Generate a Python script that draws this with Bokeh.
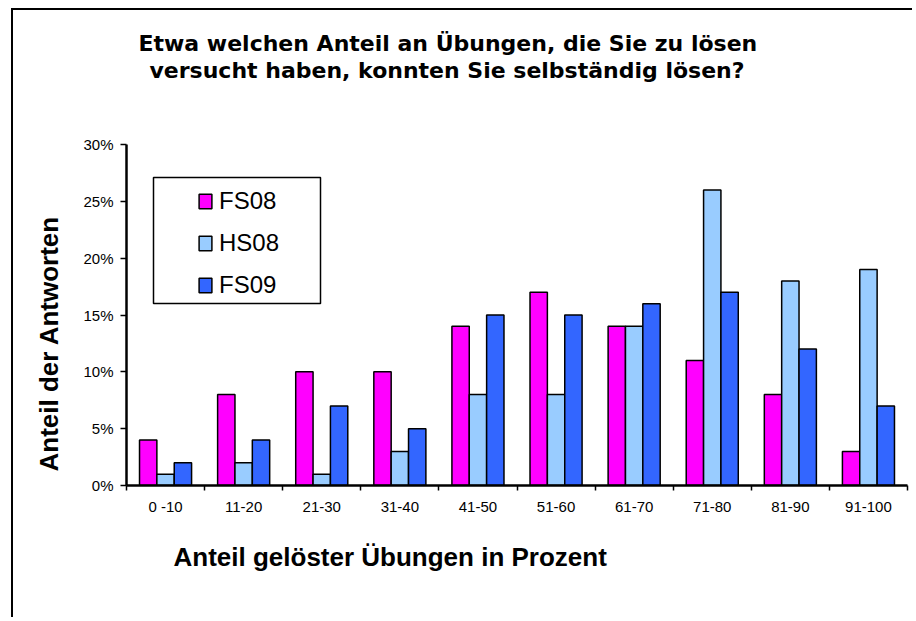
import numpy as np
from bokeh.plotting import figure
from bokeh.models import (ColumnDataSource, Range1d, FixedTicker, PrintfTickFormatter,
                          BoxAnnotation, Title)
from bokeh.transform import dodge
from bokeh.embed import file_html
from bokeh.resources import INLINE

categories = ["0 -10", "11-20", "21-30", "31-40", "41-50", "51-60", "61-70", "71-80", "81-90", "91-100"]
fs08 = [4, 8, 10, 10, 14, 17, 14, 11, 8, 3]
hs08 = [1, 2, 1, 3, 8, 8, 14, 26, 18, 19]
fs09 = [2, 4, 7, 5, 15, 15, 16, 17, 12, 7]
y_ticks = [0, 5, 10, 15, 20, 25, 30]

title_line1 = "Etwa welchen Anteil an Übungen, die Sie zu lösen"
title_line2 = "versucht haben, konnten Sie selbständig lösen?"
x_title = "Anteil gelöster Übungen in Prozent"
y_title = "Anteil der Antworten"

centers = list(np.arange(len(categories)) + 0.5)
bounds = list(np.arange(len(categories) + 1).astype(float))

src = ColumnDataSource(dict(x=centers, fs08=fs08, hs08=hs08, fs09=fs09))

FONT = "Liberation Sans"

p = figure(width=901, height=609, output_backend="svg", toolbar_location=None,
           x_range=Range1d(0, len(categories)), y_range=Range1d(0, 30),
           min_border_left=113, min_border_right=7, min_border_top=134, min_border_bottom=134)
p.styles = {"border-top": "2px solid black", "border-left": "2px solid black",
            "margin-left": "11px", "margin-top": "8px"}
p.outline_line_color = None
p.xgrid.visible = False
p.ygrid.visible = False
p.background_fill_color = "white"
p.border_fill_color = "white"

bw = 1 / 4.5
colors = ["#FF00FF", "#99CCFF", "#3366FF"]
names = ["FS08", "HS08", "FS09"]
cols = ["fs08", "hs08", "fs09"]
for off, col, c, n in zip([-bw, 0, bw], cols, colors, names):
    p.vbar(x=dodge("x", off, range=p.x_range), top=col, width=bw, source=src,
           fill_color=c, line_color="black", line_width=1.5, legend_label=n)

# axes
xa = p.xaxis[0]
xa.ticker = FixedTicker(ticks=centers, minor_ticks=bounds)
xa.major_label_overrides = {c: lab for c, lab in zip(centers, categories)}
xa.major_tick_out = 0
xa.major_tick_in = 0
xa.minor_tick_out = 5
xa.minor_tick_in = 0
xa.minor_tick_line_color = "black"
xa.minor_tick_line_width = 1.5
xa.axis_line_width = 2.5
xa.axis_line_color = "black"
xa.major_label_text_font = FONT
xa.major_label_text_font_size = "15px"
xa.major_label_text_color = "black"
xa.major_label_standoff = 7

ya = p.yaxis[0]
ya.ticker = FixedTicker(ticks=y_ticks, minor_ticks=[])
ya.formatter = PrintfTickFormatter(format="%d%%")
ya.major_tick_out = 6
ya.major_tick_in = 0
ya.major_tick_line_width = 1.5
ya.minor_tick_line_color = None
ya.axis_line_width = 2.5
ya.axis_line_color = "black"
ya.major_label_text_font = FONT
ya.major_label_text_font_size = "15px"
ya.major_label_text_color = "black"
ya.major_label_standoff = 7

# chart title: stacked title panels above the frame (a thin spacer first)
p.add_layout(Title(text=" ", text_font_size="1px", standoff=59), "above")
p.add_layout(Title(text=title_line2, align="left", offset=23, standoff=0,
                   vertical_align="bottom", text_font="DejaVu Sans",
                   text_font_style="bold", text_font_size="22px", text_color="black"), "above")
p.add_layout(Title(text=title_line1, align="left", offset=12, standoff=0,
                   vertical_align="bottom", text_font="DejaVu Sans",
                   text_font_style="bold", text_font_size="22px", text_color="black"), "above")

# axis titles as side-panel titles
p.add_layout(Title(text=x_title, align="left", offset=47, standoff=44,
                   text_font=FONT, text_font_style="bold",
                   text_font_size="26px", text_color="black"), "below")
p.add_layout(Title(text=y_title, align="left", offset=14, standoff=34,
                   text_font=FONT, text_font_style="bold",
                   text_font_size="26px", text_color="black"), "left")

# legend frame box
p.add_layout(BoxAnnotation(left=27, right=194, top=308, bottom=182,
                           left_units="screen", right_units="screen",
                           top_units="screen", bottom_units="screen",
                           fill_alpha=0, line_color="black", line_alpha=1, line_width=1.5,
                           level="overlay"))

lg = p.legend[0]
lg.location = (71, 186)
lg.margin = 0
lg.padding = 0
lg.spacing = 14
lg.glyph_width = 16
lg.glyph_height = 18
lg.label_height = 28
lg.label_standoff = 6
lg.label_text_font = FONT
lg.label_text_font_size = "24px"
lg.label_text_color = "black"
lg.border_line_color = None
lg.background_fill_alpha = 0

open("out.html", "w").write(file_html(p, INLINE))
